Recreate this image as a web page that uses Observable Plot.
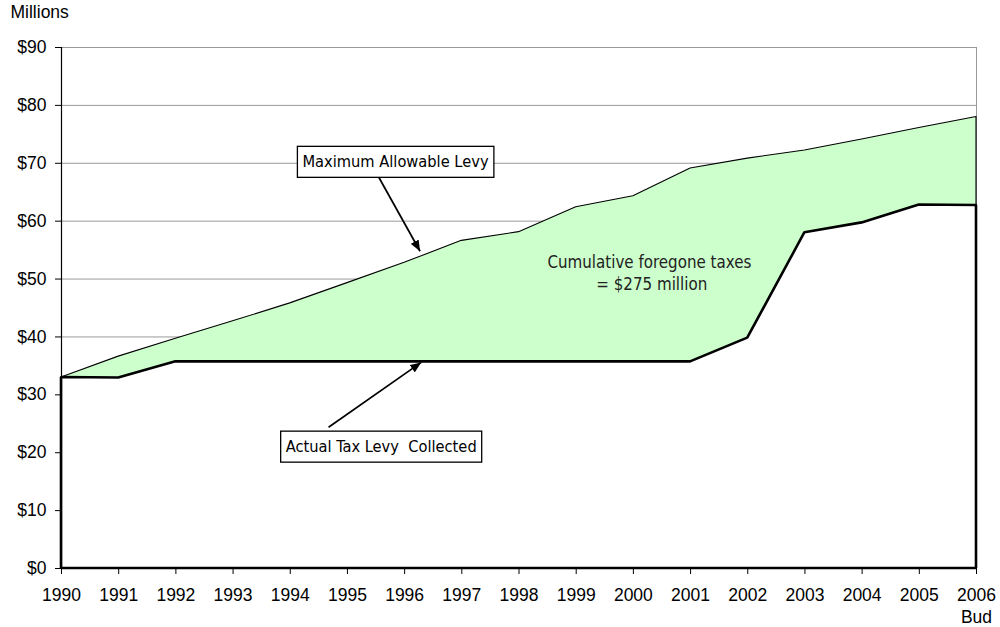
<!DOCTYPE html>
<html>
<head>
<meta charset="utf-8">
<script src="https://cdn.jsdelivr.net/npm/d3@7"></script>
<script src="https://cdn.jsdelivr.net/npm/@observablehq/plot@0.6"></script>
<style>
  html, body { margin: 0; padding: 0; background: #fff; }
  #chart svg { display: block; }
</style>
</head>
<body>
<div id="chart"></div>
<script>
// Property tax levy, 1990 to 2006 (budget), in millions of dollars
const years = [1990, 1991, 1992, 1993, 1994, 1995, 1996, 1997, 1998, 1999, 2000, 2001, 2002, 2003, 2004, 2005, 2006];
const maxLevy = [33.0, 36.6, 39.7, 42.7, 45.8, 49.3, 52.8, 56.6, 58.1, 62.4, 64.3, 69.1, 70.8, 72.2, 74.1, 76.1, 78.0];
const actualLevy = [33.0, 32.9, 35.7, 35.7, 35.7, 35.7, 35.7, 35.7, 35.7, 35.7, 35.7, 35.7, 39.8, 58.0, 59.7, 62.8, 62.7];
const yTicks = [0, 10, 20, 30, 40, 50, 60, 70, 80, 90];
const gridTicks = [10, 20, 30, 40, 50, 60, 70, 80, 90];

// Callout labels (boxed) and their arrows, in data units
const callouts = [
  {label: "Maximum Allowable Levy", year: 1995.84, value: 70.2},
  {label: "Actual Tax Levy\u00a0 Collected", year: 1995.59, value: 21.0}
];
const arrows = [
  {fromYear: 1995.39, fromValue: 70.4, toYear: 1996.27, toValue: 54.8},
  {fromYear: 1994.67, fromValue: 24.4, toYear: 1996.29, toValue: 35.6}
];
const note = {text: "Cumulative foregone taxes\n = $275 million", year: 2000.28, value: 51.2};

const data = years.map((year, i) => ({year, max: maxLevy[i], actual: actualLevy[i]}));

const axisFont = "'Liberation Sans', Arial, Helvetica, sans-serif";
const noteFont = "Tahoma, 'DejaVu Sans Condensed', 'DejaVu Sans', sans-serif";

// Solid triangular arrowhead for the callout pointers
function solidHead(color) {
  const m = d3.create("svg:marker")
    .attr("viewBox", "-11 -4.5 11 9")
    .attr("markerWidth", 11)
    .attr("markerHeight", 9)
    .attr("markerUnits", "userSpaceOnUse")
    .attr("orient", "auto")
    .attr("refX", 0)
    .attr("refY", 0);
  m.append("path").attr("d", "M-11,-4.5L0,0L-11,4.5Z").attr("fill", color).attr("stroke", "none");
  return m.node();
}

const chart = Plot.plot({
  width: 1000,
  height: 627,
  marginLeft: 61,
  marginRight: 24,
  marginTop: 47,
  marginBottom: 59,
  style: {fontFamily: axisFont, fontSize: "17.5px", color: "#000", background: "#fff"},
  x: {domain: [1990, 2006]},
  y: {domain: [0, 90]},
  marks: [
    Plot.ruleY(gridTicks, {stroke: "#999", strokeWidth: 1}),
    Plot.ruleX([2006], {stroke: "#999", strokeWidth: 1}),
    // gap between the allowable maximum and the levy actually collected
    Plot.areaY(data, {x: "year", y1: "actual", y2: "max", fill: "#ccffcc", stroke: "#000", strokeWidth: 1.1}),
    // levy collected, outlined down to zero
    Plot.areaY(data, {x: "year", y1: 0, y2: "actual", fill: "#fff", stroke: "#000", strokeWidth: 2.6, strokeLinejoin: "miter"}),
    Plot.ruleX([1990], {stroke: "#000", strokeWidth: 1.2}),
    Plot.axisY({ticks: yTicks, tickFormat: d => "$" + d, tickSize: 6, tickPadding: 9, label: null, fontSize: 17.5}),
    Plot.axisX({ticks: years, tickFormat: d => String(d), tickSize: 6, tickPadding: 14, label: null, fontSize: 17.5}),
    Plot.text(["Bud"], {x: () => 2006, frameAnchor: "bottom", dy: 54, lineAnchor: "bottom", text: d => d, fontSize: 17.5}),
    Plot.text(["Millions"], {frameAnchor: "top-left", dx: -51, dy: -30, lineAnchor: "bottom", textAnchor: "start", text: d => d, fontSize: 17.5}),
    Plot.link(arrows, {x1: "fromYear", y1: "fromValue", x2: "toYear", y2: "toValue", stroke: "#000", strokeWidth: 1.7, markerEnd: solidHead}),
    Plot.text(callouts, {x: "year", y: "value", text: "label", fontFamily: noteFont, fontSize: 16.3, fill: "#000"}),
    Plot.text([note], {x: "year", y: "value", text: "text", fontFamily: noteFont, fontSize: 16.8, lineHeight: 1.3, fill: "#222"})
  ]
});

document.getElementById("chart").appendChild(chart);

// Draw a framed white box behind each callout label
const boxed = new Set(callouts.map(d => d.label));
chart.querySelectorAll("text").forEach(t => {
  if (!boxed.has(t.textContent)) return;
  const b = t.getBBox();
  const padX = 5, padY = 7;
  const rect = document.createElementNS("http://www.w3.org/2000/svg", "rect");
  rect.setAttribute("x", b.x - padX);
  rect.setAttribute("y", b.y - padY + 1);
  rect.setAttribute("width", b.width + 2 * padX);
  rect.setAttribute("height", b.height + 2 * padY - 2);
  rect.setAttribute("fill", "#fff");
  rect.setAttribute("stroke", "#000");
  rect.setAttribute("stroke-width", "1.3");
  const tf = t.getAttribute("transform");
  if (tf) rect.setAttribute("transform", tf);
  t.parentNode.insertBefore(rect, t);
});
</script>
</body>
</html>
